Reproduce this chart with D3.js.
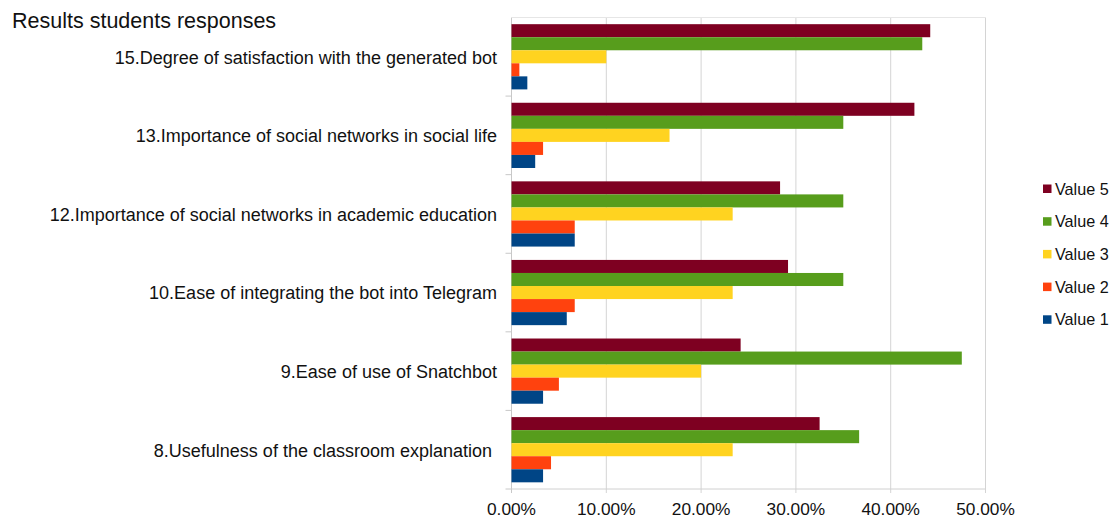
<!DOCTYPE html>
<html>
<head>
<meta charset="utf-8">
<script src="https://cdn.jsdelivr.net/npm/d3@7"></script>
<style>
  body { margin: 0; background: #fff; }
  text { font-family: "Liberation Sans", Arial, sans-serif; fill: #111; }
</style>
</head>
<body>
<div id="root"></div>
<script>
// questions, top to bottom as in the chart
var questions = [
  '15.Degree of satisfaction with the generated bot',
  '13.Importance of social networks in social life',
  '12.Importance of social networks in academic education',
  '10.Ease of integrating the bot into Telegram',
  '9.Ease of use of Snatchbot',
  '8.Usefulness of the classroom explanation '
];
var seriesNames = ['Value 5', 'Value 4', 'Value 3', 'Value 2', 'Value 1'];
var seriesColors = ['#7e0021', '#579d1c', '#ffd320', '#ff420e', '#004586'];

// share of answers (%) per question, one array per series
var value5 = [44.17, 42.5, 28.33, 29.17, 24.17, 32.5];
var value4 = [43.33, 35, 35, 35, 47.5, 36.67];
var value3 = [10, 16.67, 23.33, 23.33, 20, 23.33];
var value2 = [0.83, 3.33, 6.67, 6.67, 5, 4.17];
var value1 = [1.67, 2.5, 6.67, 5.83, 3.33, 3.33];
var xTicks = [0, 10, 20, 30, 40, 50];

var allValues = [value5, value4, value3, value2, value1];

var width = 1115, height = 520;
var svg = d3.select('#root')
  .append('svg')
    .attr('width', width)
    .attr('height', height);

svg.append('text')
  .attr('x', 12)
  .attr('y', 28)
  .style('font-size', '21.5px')
  .text('Results students responses');

var x = d3.scaleLinear()
  .domain([0, 50])
  .range([511.5, 985.5]);

var y = d3.scaleBand()
  .domain(questions)
  .range([17.5, 489])
  .paddingInner(0.17)
  .paddingOuter(0.085);

var ySeries = d3.scaleBand()
  .domain(seriesNames)
  .range([0, y.bandwidth()]);

// grid
svg.append('g')
  .selectAll('line')
  .data(xTicks)
  .enter()
  .append('line')
    .attr('x1', d => x(d))
    .attr('x2', d => x(d))
    .attr('y1', 17.5)
    .attr('y2', 493)
    .attr('stroke', d => d === 0 ? '#c8c8c8' : '#d4d4d4')
    .attr('stroke-width', 1);

svg.append('line')
  .attr('x1', x(0)).attr('x2', x(50))
  .attr('y1', 17.5).attr('y2', 17.5)
  .attr('stroke', '#e6e6e6');

svg.append('line')
  .attr('x1', x(0)).attr('x2', x(50))
  .attr('y1', 489).attr('y2', 489)
  .attr('stroke', '#d0d0d0');

// small ticks between question groups
var bounds = questions.map(q => y(q) - y.step() * y.paddingInner() / 2).slice(1);
bounds.push(489);
svg.append('g')
  .selectAll('line')
  .data(bounds)
  .enter()
  .append('line')
    .attr('x1', x(0) - 6)
    .attr('x2', x(0))
    .attr('y1', d => d)
    .attr('y2', d => d)
    .attr('stroke', '#c8c8c8');

// bars
var groups = svg.append('g')
  .selectAll('g')
  .data(questions)
  .enter()
  .append('g')
    .attr('transform', q => 'translate(0,' + y(q) + ')');

groups.selectAll('rect')
  .data((q, qi) => seriesNames.map((s, si) => ({ s: s, v: allValues[si][qi], c: seriesColors[si] })))
  .enter()
  .append('rect')
    .attr('x', x(0))
    .attr('y', d => ySeries(d.s))
    .attr('width', d => x(d.v) - x(0))
    .attr('height', ySeries.bandwidth())
    .attr('fill', d => d.c);

// question labels
svg.append('g')
  .selectAll('text')
  .data(questions)
  .enter()
  .append('text')
    .attr('x', 497)
    .attr('y', q => y(q) + y.bandwidth() / 2 + 0.5)
    .attr('dy', '0.35em')
    .attr('text-anchor', 'end')
    .style('font-size', '18px')
    .style('white-space', 'pre')
    .text(q => q);

// x tick labels
svg.append('g')
  .selectAll('text')
  .data(xTicks)
  .enter()
  .append('text')
    .attr('x', d => x(d))
    .attr('y', 515)
    .attr('text-anchor', 'middle')
    .style('font-size', '17.3px')
    .text(d => d3.format('.2%')(d / 100));

// legend
var legend = svg.append('g')
  .selectAll('g')
  .data(seriesNames)
  .enter()
  .append('g')
    .attr('transform', (d, i) => 'translate(1043,' + (189 + i * 32.7) + ')');

legend.append('rect')
  .attr('x', 0)
  .attr('y', -4.5)
  .attr('width', 8.5)
  .attr('height', 8.5)
  .attr('fill', (d, i) => seriesColors[i]);

legend.append('text')
  .attr('x', 12)
  .attr('dy', '0.35em')
  .style('font-size', '16.2px')
  .text(d => d);
</script>
</body>
</html>
